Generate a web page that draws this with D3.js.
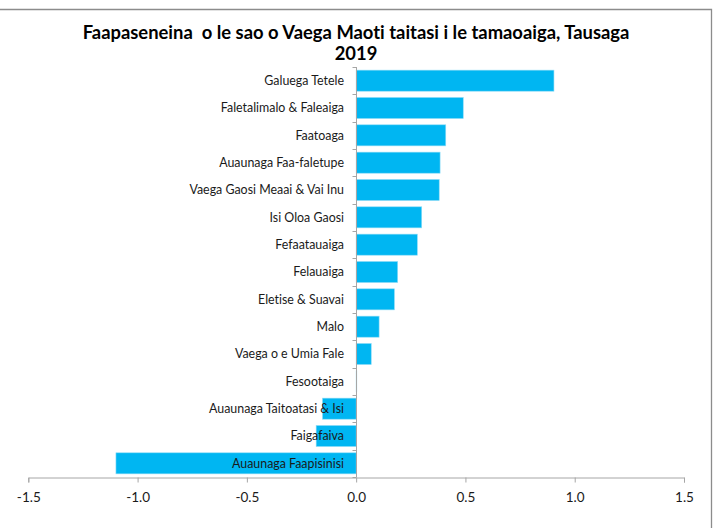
<!DOCTYPE html>
<html>
<head>
<meta charset="utf-8">
<script src="https://cdn.jsdelivr.net/npm/d3@7"></script>
<style>
  body{margin:0;background:#fff;}
  svg{display:block;font-family:Lato, "Liberation Sans", sans-serif;font-variant-ligatures:none;}
</style>
</head>
<body>
<div id="chart"></div>
<script>
const categories=["Galuega Tetele","Faletalimalo & Faleaiga","Faatoaga","Auaunaga Faa-faletupe","Vaega Gaosi Meaai & Vai Inu","Isi Oloa Gaosi","Fefaatauaiga","Felauaiga","Eletise & Suavai","Malo","Vaega o e Umia Fale","Fesootaiga","Auaunaga Taitoatasi & Isi","Faigafaiva","Auaunaga Faapisinisi"];
const values=[0.905,0.49,0.41,0.384,0.38,0.30,0.28,0.19,0.175,0.105,0.069,0.003,-0.154,-0.183,-1.099];
const xTicks=[-1.5,-1.0,-0.5,0.0,0.5,1.0,1.5];
const titleLines=["Faapaseneina  o le sao o Vaega Maoti taitasi i le tamaoaiga, Tausaga","2019"];

const w=717, h=528;
const plotLeft=28.3, plotRight=684, plotTop=67, plotBottom=477;

const svg=d3.select("#chart").append("svg").attr("width",w).attr("height",h);
svg.append("rect").attr("width",w).attr("height",h).attr("fill","#fff");

// chart frame (top and right edges only visible)
svg.append("path")
    .attr("d",`M0,9.5H711.5V${h}`)
    .attr("fill","none")
    .attr("stroke","#8c8c8c")
    .attr("stroke-width",1.3);

const data=categories.map((c,i)=>({name:c,value:values[i]}));

const xScale=d3.scaleLinear().domain([-1.5,1.5]).range([plotLeft,plotRight]);
const yScale=d3.scaleBand().domain(categories).range([plotTop,plotBottom]).paddingInner(0.23).paddingOuter(0.115);

// title
svg.append("text")
    .attr("text-anchor","middle")
    .style("font-weight","bold")
    .style("font-size","18.4px")
    .style("white-space","pre")
    .attr("fill","#000")
    .selectAll("tspan")
    .data(titleLines)
    .enter()
    .append("tspan")
    .attr("x",356)
    .attr("y",(d,i)=>39+i*21)
    .text(d=>d);

// bars
svg.selectAll("rect.bar")
    .data(data)
    .enter()
    .append("rect")
    .attr("class","bar")
    .attr("x",d=>xScale(Math.min(0,d.value)))
    .attr("y",d=>yScale(d.name))
    .attr("width",d=>Math.abs(xScale(d.value)-xScale(0)))
    .attr("height",yScale.bandwidth())
    .attr("fill","#00B6F2")
    .attr("stroke","#8fdcf7")
    .attr("stroke-width",0.6);

// x axis
const xAxis=d3.axisBottom(xScale)
    .tickValues(xTicks)
    .tickSize(5)
    .tickPadding(10)
    .tickFormat(d=>d.toFixed(1));
const gx=svg.append("g")
    .attr("transform",`translate(0,${plotBottom+0.5})`)
    .call(xAxis);
gx.select(".domain").attr("stroke","#a6a6a6");
gx.selectAll(".tick line").attr("stroke","#a6a6a6");
gx.selectAll(".tick text")
    .style("font-family","Lato, sans-serif")
    .style("font-size","13.5px")
    .attr("fill","#1a1a1a");

// y axis line at zero with ticks at category boundaries
const x0=Math.round(xScale(0))+0.5;
svg.append("line")
    .attr("x1",x0).attr("x2",x0)
    .attr("y1",plotTop).attr("y2",plotBottom)
    .attr("stroke","#a6a6a6");
const bounds=categories.map(c=>yScale(c)-yScale.step()*yScale.paddingInner()/2).concat([plotBottom]);
svg.selectAll("line.ytick")
    .data(bounds)
    .enter()
    .append("line")
    .attr("class","ytick")
    .attr("x1",x0-4).attr("x2",x0)
    .attr("y1",d=>Math.round(d)+0.5).attr("y2",d=>Math.round(d)+0.5)
    .attr("stroke","#a6a6a6");

// category labels
svg.selectAll("text.cat")
    .data(data)
    .enter()
    .append("text")
    .attr("class","cat")
    .attr("x",344)
    .attr("y",d=>yScale(d.name)+yScale.bandwidth()/2)
    .attr("dy","0.35em")
    .attr("text-anchor","end")
    .style("font-size","12.4px")
    .attr("fill","#1a1a1a")
    .text(d=>d.name);
</script>
</body>
</html>
